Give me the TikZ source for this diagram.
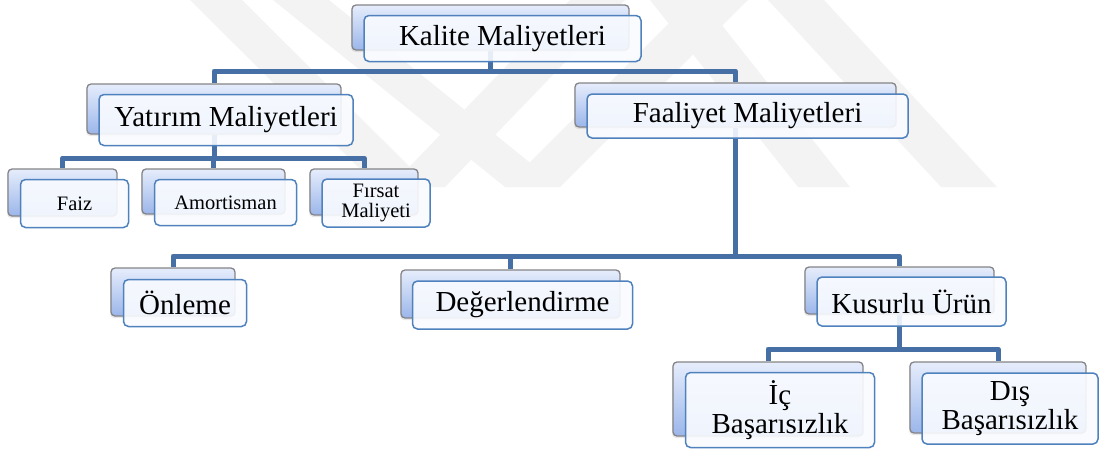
\documentclass[tikz,border=0pt]{standalone}
\usepackage{fontspec}
\setmainfont{Liberation Serif}
\usetikzlibrary{shadows}

\definecolor{busblue}{RGB}{70,111,166}
\definecolor{cardedge}{RGB}{79,129,189}
\definecolor{backedge}{RGB}{132,132,136}
\definecolor{backtop}{RGB}{230,237,252}
\definecolor{backbot}{RGB}{155,182,234}
\definecolor{cardfill}{RGB}{249,251,255}
\definecolor{markgrey}{RGB}{243,243,243}

\tikzset{
  backcard/.style={rectangle, rounded corners=4pt, draw=backedge, line width=1.3pt,
    top color=backtop, bottom color=backbot, inner sep=0pt,
    drop shadow={opacity=0.18, shadow xshift=-1pt, shadow yshift=-2pt}},
  frontcard/.style={rectangle, rounded corners=5pt, draw=cardedge, line width=1.5pt,
    fill=cardfill, fill opacity=0.9, draw opacity=1, text opacity=1, inner sep=0pt,
    align=center, text=black},
  big/.style={font=\fontsize{29}{29}\selectfont},
  small/.style={font=\fontsize{20.5}{20}\selectfont},
  bus/.style={draw=busblue, line width=5pt, line join=round},
  band/.style={fill=markgrey}
}

% back card: name, left, top, width, height
\newcommand\backcard[5]{%
  \node[backcard, minimum width=#4, minimum height=#5] (#1) at ({#2+#4/2},{#3+#5/2}) {};}
% front card: name, back card, width, height, size style, text
\newcommand\frontcard[6]{%
  \node[frontcard, #5, minimum width=#3, minimum height=#4] (#1) at ([shift={(12,11)}]#2.center) {#6};}

\begin{document}
\begin{tikzpicture}[x=1pt, y=-1pt]
\useasboundingbox (0,0) rectangle (1099,450);

% faint background emblem: diagonal stripes
\begin{scope}
  \clip (0,0) rectangle (1099,450);
  \fill[band] (190,0) -- (242,0) -- (430,187) -- (378,187) -- cycle;
  \fill[band] (273,0) -- (329,0) -- (560,187) -- (505,187) -- cycle;
  \fill[band] (390,187) -- (445,187) -- (625,0) -- (570,0) -- cycle;
  \fill[band] (505,187) -- (560,187) -- (748,0) -- (692,0) -- cycle;
  \fill[band] (650,0) -- (702,0) -- (850,187) -- (798,187) -- cycle;
  \fill[band] (768,0) -- (824,0) -- (997,187) -- (941,187) -- cycle;
\end{scope}

% back cards
\backcard{Kb}{352}{5}{277}{45}
\backcard{Yb}{87}{84}{254}{50}
\backcard{Fb}{575}{83}{321}{44}
\backcard{Faizb}{8}{169}{109}{47}
\backcard{Amb}{142}{169}{143}{45}
\backcard{Firb}{310}{169}{108}{46}
\backcard{Onb}{111}{268}{124}{48}
\backcard{Deb}{401}{270}{219}{48}
\backcard{Kub}{805}{267}{189}{47}
\backcard{Icb}{673}{362}{190}{74}
\backcard{Disb}{910}{362}{176}{71}

% bus levels
\coordinate (busK) at (0,71);
\coordinate (busY) at (0,158);
\coordinate (busF) at (0,256);
\coordinate (busKu) at (0,349);

% connectors
\draw[bus] (Kb.south) -- (Kb.south |- busK);
\draw[bus] (Yb.north) |- (Fb.north |- busK) -- (Fb.north);
\draw[bus] (Yb.south) -- (Yb.south |- busY);
\draw[bus] (Faizb.north) |- (Firb.north |- busY) -- (Firb.north);
\draw[bus] (Amb.north) -- (Amb.north |- busY);
\draw[bus] (Fb.south) -- (Fb.south |- busF);
\draw[bus] (Onb.north) |- (Kub.north |- busF) -- (Kub.north);
\draw[bus] (Deb.north) -- (Deb.north |- busF);
\draw[bus] (Kub.south) -- (Kub.south |- busKu);
\draw[bus] (Icb.north) |- (Disb.north |- busKu) -- (Disb.north);

% front cards
\frontcard{K}{Kb}{277}{46}{big}{Kalite Maliyetleri}
\frontcard{Y}{Yb}{254}{51}{big}{Yatırım Maliyetleri}
\frontcard{F}{Fb}{321}{44}{big}{Faaliyet Maliyetleri}
\frontcard{Faiz}{Faizb}{108}{48}{small}{Faiz}
\frontcard{Am}{Amb}{142}{46}{small}{Amortisman}
\frontcard{Fir}{Firb}{108}{48}{small}{Fırsat\\Maliyeti}
\frontcard{On}{Onb}{123}{47}{big}{Önleme}
\frontcard{De}{Deb}{220}{48}{big}{Değerlendirme}
\frontcard{Ku}{Kub}{189}{49}{big}{Kusurlu Ürün}
\frontcard{Ic}{Icb}{189}{75}{big}{İç\\Başarısızlık}
\frontcard{Dis}{Disb}{176}{71}{big}{Dış\\Başarısızlık}
\end{tikzpicture}
\end{document}
